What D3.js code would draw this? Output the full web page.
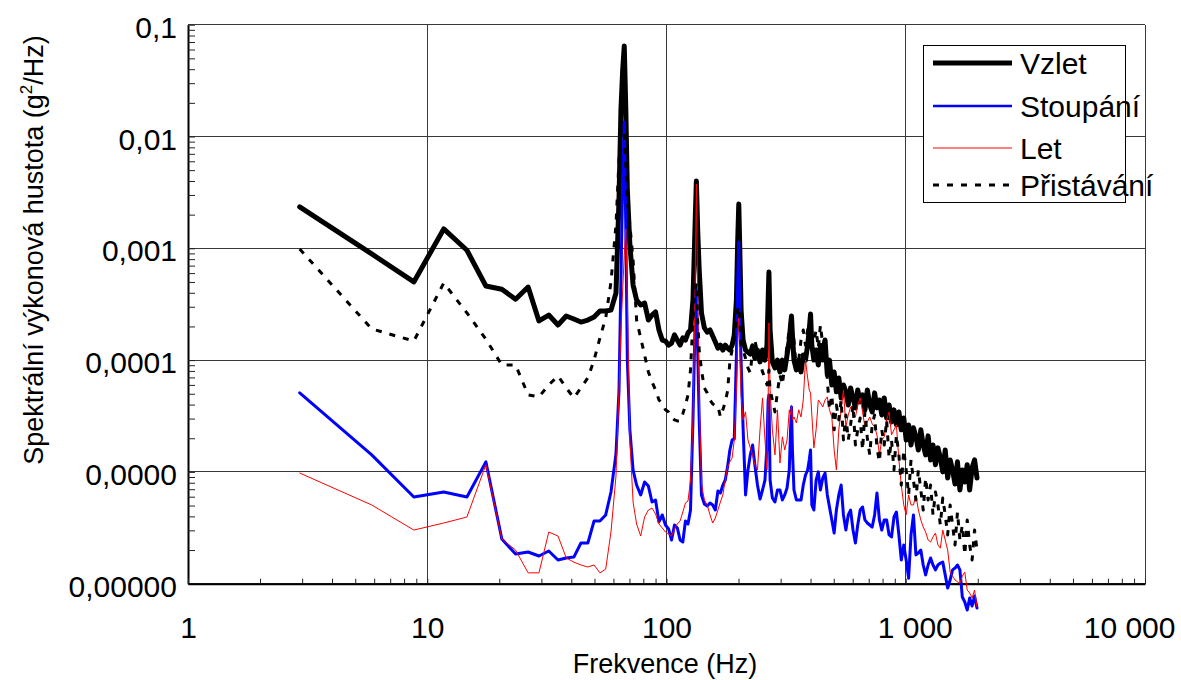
<!DOCTYPE html>
<html>
<head>
<meta charset="utf-8">
<script src="https://cdn.jsdelivr.net/npm/d3@7"></script>
<style>
  body { margin: 0; background: #fff; }
  svg { display: block; }
  text { font-family: "Liberation Sans", Arial, sans-serif; fill: #000; }
</style>
</head>
<body>
<svg id="chart" width="1181" height="680"></svg>
<script>
// Frequency bins (Hz)
const freq = [
  2.93,5.86,8.79,11.72,14.65,17.58,20.5,23.4,26.4,29.3,
  32.2,35.2,38.1,41,43.9,46.9,49.8,52.7,55.7,58.6,
  61.5,63.3,64.5,65.6,66.6,67.6,68.6,70.3,72.5,75,
  78,81,84,87,90,93,96,99,102,105,
  108,111,114,117,120,123,126,129,131.5,133.3,
  135,137,140,144,148,152,156,160,164,168,
  172,176,180,184,188,192,196,198.5,200.5,202.5,
  205,209,214,219,224,229,234,240,246,252,
  258,263,266,268,271,277,284,291,298,305,
  312,319,326,330,333,336,341,349,357,365,
  373,381,389,395,400,405,413,422,431,440,
  450,460,470,480,491,502,513,525,537,549,
  562,575,588,602,616,630,645,660,675,691,
  707,724,741,758,776,794,813,832,852,872,
  893,914,936,958,981,1004,1028,1052,1077,1103,
  1129,1156,1183,1211,1240,1270,1300,1331,1363,1395,
  1428,1462,1497,1533,1569,1607,1645,1684,1724,1765,
  1807,1850,1894,1939,1985
];

// Power spectral density, g^2/Hz
const vzletPsd = [
  2.35e-3,8.9e-4,5.0e-4,1.49e-3,9.6e-4,4.6e-4,4.3e-4,3.5e-4,4.5e-4,2.24e-4,
  2.53e-4,2.06e-4,2.48e-4,2.33e-4,2.19e-4,2.28e-4,2.43e-4,2.75e-4,2.75e-4,2.8e-4,
  3.98e-4,2.7e-3,1.73e-2,3.93e-2,6.45e-2,1.73e-2,3.32e-3,1.07e-3,4.69e-4,3.45e-4,
  3.11e-4,3.24e-4,2.28e-4,2.53e-4,2.7e-4,1.86e-4,1.51e-4,1.48e-4,1.36e-4,1.42e-4,
  1.68e-4,1.51e-4,1.36e-4,1.58e-4,1.51e-4,1.75e-4,1.86e-4,3.45e-4,1.46e-3,4.0e-3,
  1.46e-3,6.4e-4,2.64e-4,1.94e-4,1.78e-4,1.86e-4,1.64e-4,1.45e-4,1.28e-4,1.36e-4,
  1.23e-4,1.36e-4,1.28e-4,1.23e-4,1.36e-4,1.68e-4,3.45e-4,1.19e-3,2.49e-3,9.64e-4,
  2.8e-4,1.51e-4,1.23e-4,1.18e-4,1.13e-4,1.34e-4,1.04e-4,1.23e-4,9.63e-5,1.23e-4,
  1.0e-4,1.36e-4,3.45e-4,6.13e-4,1.86e-4,9.63e-5,8.51e-5,1.0e-4,7.84e-5,1.0e-4,
  8.17e-5,1.11e-4,1.51e-4,2.06e-4,2.48e-4,1.68e-4,1.0e-4,8.17e-5,1.0e-4,7.84e-5,
  1.11e-4,1.0e-4,1.36e-4,1.86e-4,2.58e-4,1.36e-4,1.0e-4,1.23e-4,9.05e-5,1.36e-4,
  1.0e-4,1.51e-4,7.37e-5,1.0e-4,6.0e-5,7.84e-5,5.2e-5,6.93e-5,4.59e-5,6.0e-5,
  5.2e-5,3.97e-5,5.64e-5,4.59e-5,3.74e-5,5.41e-5,4.23e-5,4.88e-5,3.59e-5,5.41e-5,
  3.97e-5,3.44e-5,5.09e-5,3.74e-5,4.4e-5,3.23e-5,4.59e-5,3.04e-5,3.97e-5,2.8e-5,
  3.59e-5,2.63e-5,3.44e-5,2.38e-5,3.04e-5,1.93e-5,2.63e-5,1.74e-5,2.48e-5,2.06e-5,
  1.57e-5,2.38e-5,1.74e-5,1.42e-5,2.1e-5,1.28e-5,1.74e-5,1.16e-5,1.64e-5,1.33e-5,
  1.0e-5,1.57e-5,8.83e-6,1.28e-5,1.04e-5,7.8e-6,1.23e-5,6.89e-6,1.04e-5,8.12e-6,
  1.16e-5,6.89e-6,1.09e-5,1.28e-5,8.83e-6
];

const stoupaniPsd = [
  5.1e-5,1.42e-5,5.97e-6,6.61e-6,5.97e-6,1.23e-5,2.51e-6,1.84e-6,1.92e-6,1.77e-6,
  1.96e-6,1.63e-6,1.7e-6,1.73e-6,2.31e-6,2.31e-6,3.64e-6,3.64e-6,4.12e-6,6.61e-6,
  1.45e-5,5.3e-5,5.21e-4,4.08e-3,1.35e-2,1.46e-3,1.0e-4,2.38e-5,1.04e-5,7.63e-6,
  6.22e-6,8.12e-6,7.47e-6,5.38e-6,5.61e-6,3.57e-6,4.12e-6,3.35e-6,3.09e-6,2.46e-6,
  3.35e-6,3.15e-6,2.46e-6,2.36e-6,3.64e-6,3.42e-6,4.56e-6,2.92e-5,1.86e-4,4.69e-4,
  1.23e-4,2.92e-5,6.22e-6,5.17e-6,4.95e-6,5.27e-6,5.06e-6,4.56e-6,6.75e-6,6.48e-6,
  7.63e-6,8.46e-6,1.11e-5,1.57e-5,1.93e-5,1.97e-5,1.13e-4,5.21e-4,1.14e-3,2.28e-4,
  1.0e-4,2.48e-5,6.22e-6,1.04e-5,1.42e-5,1.74e-5,1.16e-5,7.63e-6,5.72e-6,6.89e-6,
  8.46e-6,1.74e-5,4.4e-5,4.88e-5,8.46e-6,5.85e-6,5.38e-6,6.89e-6,6.89e-6,5.61e-6,
  6.22e-6,7.18e-6,1.04e-5,2.38e-5,3.81e-5,1.57e-5,6.89e-6,5.61e-6,5.61e-6,5.61e-6,
  7.63e-6,9.37e-6,1.04e-5,1.28e-5,1.57e-5,5.06e-6,4.56e-6,8.46e-6,1.0e-5,6.89e-6,
  8.83e-6,9.77e-6,6.22e-6,4.85e-6,3.72e-6,2.84e-6,4.56e-6,6.22e-6,7.63e-6,4.12e-6,
  3.02e-6,4.12e-6,4.56e-6,3.02e-6,2.31e-6,3.35e-6,4.56e-6,4.85e-6,3.72e-6,3.49e-6,
  3.35e-6,3.21e-6,4.12e-6,6.48e-6,3.72e-6,3.02e-6,3.72e-6,3.72e-6,2.73e-6,2.62e-6,
  3.95e-6,4.38e-6,2.73e-6,1.63e-6,2.22e-6,1.63e-6,1.12e-6,2.73e-6,4.12e-6,1.81e-6,
  1.88e-6,2.0e-6,1.47e-6,1.2e-6,1.47e-6,1.7e-6,1.47e-6,1.33e-6,1.47e-6,1.53e-6,
  1.56e-6,1.2e-6,9.15e-7,1.08e-6,1.33e-6,1.38e-6,1.47e-6,1.33e-6,7.6e-7,6.86e-7,
  5.82e-7,7.45e-7,6.32e-7,7.76e-7,6.06e-7
];

const letPsd = [
  9.77e-6,5.06e-6,3.02e-6,3.49e-6,3.95e-6,1.16e-5,2.51e-6,2.0e-6,1.25e-6,1.25e-6,
  2.9e-6,2.67e-6,1.7e-6,1.56e-6,1.47e-6,1.41e-6,1.47e-6,1.25e-6,1.35e-6,2.9e-6,
  9.19e-6,5.41e-5,1.86e-4,4.24e-4,8.7e-4,1.49e-3,3.45e-4,1.93e-5,5.38e-6,3.42e-6,
  2.67e-6,3.95e-6,4.56e-6,4.75e-6,4.2e-6,3.42e-6,3.15e-6,2.9e-6,2.78e-6,2.67e-6,
  3.09e-6,3.42e-6,3.64e-6,4.38e-6,5.27e-6,5.49e-6,8.46e-6,2.92e-5,3.45e-4,3.76e-3,
  3.45e-4,4.4e-5,7.8e-6,5.61e-6,5.06e-6,4.12e-6,3.49e-6,3.87e-6,4.56e-6,5.38e-6,
  6.22e-6,8.46e-6,1.11e-5,1.23e-5,1.33e-5,1.93e-5,5.3e-5,1.51e-4,2.64e-4,1.23e-4,
  4.88e-5,2.92e-5,3.44e-5,1.93e-5,1.64e-5,1.42e-5,1.16e-5,1.04e-5,2.38e-5,4.59e-5,
  1.93e-5,1.04e-5,4.4e-5,2.15e-4,5.41e-5,2.38e-5,1.42e-5,3.59e-5,1.2e-5,2.06e-5,
  1.57e-5,1.93e-5,3.59e-5,3.23e-5,3.97e-5,2.92e-5,3.1e-5,2.74e-5,3.59e-5,3.1e-5,
  4.4e-5,1.0e-4,6.93e-5,5.41e-5,5.09e-5,3.23e-5,1.64e-5,2.38e-5,4.4e-5,4.14e-5,
  3.81e-5,4.4e-5,4.69e-5,3.59e-5,3.1e-5,1.57e-5,1.04e-5,2.38e-5,3.59e-5,5.41e-5,
  2.53e-5,3.23e-5,3.81e-5,3.23e-5,3.1e-5,3.97e-5,4.59e-5,3.44e-5,2.53e-5,2.8e-5,
  3.1e-5,2.69e-5,2.53e-5,2.14e-5,1.42e-5,1.93e-5,2.06e-5,2.92e-5,3.44e-5,2.14e-5,
  2.38e-5,2.63e-5,1.28e-5,7.63e-6,5.06e-6,4.12e-6,6.22e-6,5.06e-6,5.06e-6,6.22e-6,
  4.56e-6,3.72e-6,3.21e-6,2.9e-6,2.46e-6,2.36e-6,2.62e-6,2.84e-6,2.22e-6,2.08e-6,
  3.02e-6,2.46e-6,2.0e-6,1.27e-6,1.17e-6,1.08e-6,1.04e-6,1.01e-6,1.17e-6,1.27e-6,
  8.77e-7,8.25e-7,7.45e-7,8.77e-7,6.19e-7
];

const pristavaniPsd = [
  9.86e-4,1.9e-4,1.48e-4,4.89e-4,2.64e-4,1.54e-4,9.05e-5,9.05e-5,4.88e-5,4.69e-5,
  6.0e-5,7.22e-5,5.64e-5,4.59e-5,5.64e-5,6.93e-5,1.0e-4,1.58e-4,2.38e-4,4.99e-4,
  1.62e-3,6.16e-3,1.1e-2,1.19e-2,1.03e-2,5.56e-3,2.7e-3,1.62e-3,7.85e-4,2.28e-4,
  1.58e-4,1.11e-4,7.84e-5,6.38e-5,5.41e-5,4.4e-5,4.06e-5,3.59e-5,3.44e-5,3.1e-5,
  2.92e-5,2.86e-5,2.86e-5,3.3e-5,3.97e-5,4.88e-5,8.17e-5,2.28e-4,4.24e-4,4.89e-4,
  2.28e-4,1.23e-4,8.17e-5,5.64e-5,5.09e-5,4.4e-5,4.06e-5,3.89e-5,3.89e-5,3.1e-5,
  3.59e-5,4.23e-5,5.3e-5,9.63e-5,1.23e-4,1.51e-4,2.38e-4,2.8e-4,3.05e-4,2.28e-4,
  1.36e-4,1.23e-4,1.04e-4,8.51e-5,7.68e-5,1.23e-4,1.51e-4,1.18e-4,9.63e-5,7.84e-5,
  6.93e-5,6.0e-5,6.65e-5,8.17e-5,5.41e-5,4.4e-5,3.44e-5,5.2e-5,7.37e-5,6.0e-5,
  9.05e-5,1.36e-4,1.86e-4,2.19e-4,2.38e-4,1.86e-4,1.51e-4,8.17e-5,1.0e-4,1.51e-4,
  1.86e-4,1.36e-4,1.86e-4,2.06e-4,2.28e-4,1.68e-4,1.45e-4,1.86e-4,1.28e-4,2.06e-4,
  1.36e-4,1.58e-4,6.65e-5,3.59e-5,4.88e-5,2.38e-5,3.97e-5,2.92e-5,4.4e-5,1.93e-5,
  3.23e-5,1.93e-5,2.63e-5,3.97e-5,1.74e-5,2.38e-5,3.04e-5,1.57e-5,3.44e-5,2.01e-5,
  1.42e-5,2.63e-5,3.23e-5,1.64e-5,1.23e-5,2.38e-5,1.74e-5,2.92e-5,1.33e-5,1.93e-5,
  1.04e-5,2.14e-5,1.42e-5,7.63e-6,1.57e-5,1.04e-5,6.22e-6,1.28e-5,8.46e-6,5.61e-6,
  1.04e-5,6.89e-6,4.56e-6,8.83e-6,5.61e-6,7.63e-6,4.12e-6,6.61e-6,5.06e-6,3.35e-6,
  5.85e-6,4.12e-6,2.73e-6,5.06e-6,3.35e-6,2.22e-6,4.38e-6,2.46e-6,3.35e-6,1.81e-6,
  3.72e-6,2.22e-6,1.63e-6,3.02e-6,2.0e-6
];

const seriesNames = ["Vzlet", "Stoupání", "Let", "Přistávání"];
const xTicks = [1, 10, 100, 1000, 10000];
const xTickLabels = ["1", "10", "100", "1 000", "10 000"];
const yTicks = [1e-6, 1e-5, 1e-4, 1e-3, 1e-2, 1e-1];
const yTickLabels = ["0,00000", "0,0000", "0,0001", "0,001", "0,01", "0,1"];

// Line styles per series
const styles = [
  { color: "#000000", width: 5, dash: null, legendWidth: 5 },
  { color: "#0000ff", width: 3, dash: null, legendWidth: 2.5 },
  { color: "#ff0000", width: 1, dash: null, legendWidth: 1 },
  { color: "#000000", width: 3, dash: "6,8", legendWidth: 3 }
];

const svg = d3.select("#chart");

const x = d3.scaleLog().domain([1, 10000]).range([188, 1145]);
const y = d3.scaleLog().domain([1e-6, 0.1]).range([583.7, 24.7]);

// Gridlines at every decade
const grid = svg.append("g").attr("shape-rendering", "crispEdges");
grid.selectAll("line.h").data(yTicks).join("line")
  .attr("class", "h")
  .attr("x1", x(1)).attr("x2", x(10000))
  .attr("y1", d => y(d)).attr("y2", d => y(d))
  .attr("stroke", "#3a3a3a").attr("stroke-width", 1);
grid.selectAll("line.v").data(xTicks.slice(1)).join("line")
  .attr("class", "v")
  .attr("x1", d => x(d)).attr("x2", d => x(d))
  .attr("y1", y(0.1)).attr("y2", y(1e-6))
  .attr("stroke", "#3a3a3a").attr("stroke-width", 1);

// Minor tick positions (1..9 per decade)
const yMinor = [];
for (let e = -6; e < -1; e++) for (let k = 1; k < 10; k++) yMinor.push(k * Math.pow(10, e));
yMinor.push(0.1);
const xMinor = [];
for (let e = 0; e < 4; e++) for (let k = 1; k < 10; k++) xMinor.push(k * Math.pow(10, e));
xMinor.push(10000);

// Axes with inward ticks
const yAxisG = svg.append("g").attr("transform", `translate(${x(1)},0)`)
  .call(d3.axisLeft(y).tickValues(yMinor).tickSize(-7).tickSizeOuter(0).tickFormat(""));
const xAxisG = svg.append("g").attr("transform", `translate(0,${y(1e-6)})`)
  .call(d3.axisBottom(x).tickValues(xMinor).tickSize(-5).tickSizeOuter(0).tickFormat(""));
[yAxisG, xAxisG].forEach(g => {
  g.select(".domain").attr("stroke", "#000").attr("stroke-width", 2);
  g.selectAll(".tick line").attr("stroke", "#222").attr("stroke-width", 1);
});

// Tick labels
const yLab = svg.append("g").attr("transform", `translate(${x(1)},0)`)
  .call(d3.axisLeft(y).tickValues(yTicks).tickFormat((d, i) => yTickLabels[i]).tickSize(0).tickPadding(11));
yLab.select(".domain").remove();
yLab.selectAll("text").attr("dy", "0.42em").style("font-size", "30px").attr("font-family", null);

const xLab = svg.append("g").attr("transform", `translate(0,${y(1e-6)})`)
  .call(d3.axisBottom(x).tickValues(xTicks).tickFormat((d, i) => xTickLabels[i]).tickSize(0));
xLab.select(".domain").remove();
xLab.selectAll("text")
  .attr("y", 54).attr("dy", 0).style("font-size", "30px").attr("font-family", null)
  .each(function(d) {
    const t = d3.select(this);
    if (d === 1000) t.attr("x", 9);
    if (d === 10000) t.attr("text-anchor", "end").attr("x", 1175 - x(10000));
  });

// Axis titles
svg.append("text")
  .attr("x", 665).attr("y", 673)
  .attr("text-anchor", "middle")
  .style("font-size", "27px")
  .text("Frekvence (Hz)");

const yTitle = svg.append("text")
  .attr("transform", "translate(43,250) rotate(-90)")
  .attr("text-anchor", "middle")
  .style("font-size", "27px");
yTitle.append("tspan").text("Spektrální výkonová hustota (g");
yTitle.append("tspan").attr("dy", -11).style("font-size", "17px").text("2");
yTitle.append("tspan").attr("dy", 11).text("/Hz)");

// Series
const seriesData = [vzletPsd, stoupaniPsd, letPsd, pristavaniPsd];
const line = d3.line()
  .x((d, i) => x(freq[i]))
  .y(d => y(d));

const plot = svg.append("g");
seriesData.forEach((vals, si) => {
  const s = styles[si];
  plot.append("path")
    .datum(vals)
    .attr("d", line)
    .attr("fill", "none")
    .attr("stroke", s.color)
    .attr("stroke-width", s.width)
    .attr("stroke-linejoin", "round")
    .attr("stroke-linecap", s.dash ? "butt" : "round")
    .attr("stroke-dasharray", s.dash);
});

// Legend
const legend = svg.append("g");
legend.append("rect")
  .attr("x", 923.5).attr("y", 45.5).attr("width", 202).attr("height", 157)
  .attr("fill", "#fff").attr("stroke", "#000").attr("stroke-width", 1);
const legendY = [63, 106, 148, 185];
seriesNames.forEach((name, i) => {
  const s = styles[i];
  legend.append("line")
    .attr("x1", 933).attr("x2", 1012)
    .attr("y1", legendY[i]).attr("y2", legendY[i])
    .attr("stroke", s.color)
    .attr("stroke-width", s.legendWidth)
    .attr("stroke-dasharray", s.dash);
  legend.append("text")
    .attr("x", 1020).attr("y", legendY[i] + 11)
    .style("font-size", "30px")
    .text(name);
});
</script>
</body>
</html>
